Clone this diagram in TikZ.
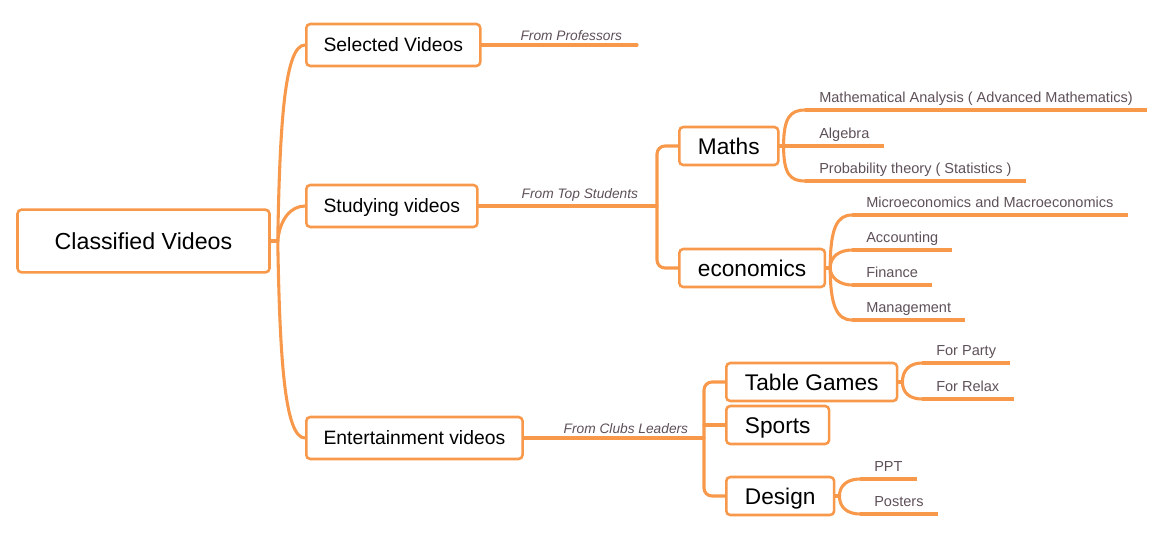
\documentclass[tikz,border=0pt]{standalone}
\usepackage{fontspec}
\setmainfont{Liberation Sans}
\usetikzlibrary{positioning}
\definecolor{mmorange}{RGB}{247,152,74}
\definecolor{mmlabel}{RGB}{94,80,88}

\begin{document}
\begin{tikzpicture}[x=0.75pt,y=-0.75pt,
    box/.style={draw=mmorange, line width=1.9pt, rounded corners=3pt, fill=white, text=black, text depth=0pt},
    rootbox/.style={box, minimum width=189pt, minimum height=47pt, text height=12.5pt, font=\fontsize{17.4}{20}\selectfont},
    topic/.style={box, anchor=west, inner xsep=13pt, minimum height=31.5pt, text height=10.4pt, font=\fontsize{14.5}{17}\selectfont},
    subtopic/.style={box, anchor=west, inner xsep=14pt, minimum height=28.5pt, text height=12.2pt, font=\fontsize{17}{20}\selectfont},
    leaf/.style={anchor=south west, inner xsep=10.5pt, inner ysep=5.5pt, text depth=0pt, text=mmlabel, font=\fontsize{10.9}{13}\selectfont},
    branch/.style={draw=mmorange, line width=2.3pt, line cap=round},
    underline/.style={draw=mmorange, line width=2.6pt},
    note/.style={midway, above, inner sep=2pt, text=mmlabel, font=\fontsize{10.3}{12}\selectfont\itshape}]
    \useasboundingbox (0,0) rectangle (1167,533);

    % main topics
    \node[rootbox] (root) at (143.5,241) {Classified Videos};
    \node[topic] (sel) at (305,45) {Selected Videos};
    \node[topic] (stu) at (305,206) {Studying videos};
    \node[topic] (ent) at (305,438) {Entertainment videos};

    \node[subtopic] (maths) at (678,146) {Maths};
    \node[subtopic] (eco) at (678,268) {economics};
    \node[subtopic] (tg) at (725,382) {Table Games};
    \node[subtopic] (sp) at (725,425) {Sports};
    \node[subtopic] (de) at (725,496) {Design};

    % leaves
    \node[leaf] (ana) at (805,110) {Mathematical Analysis ( Advanced Mathematics)};
    \node[leaf] (alg) at (805,146) {Algebra};
    \node[leaf] (prob) at (805,181) {Probability theory ( Statistics )};
    \node[leaf] (micro) at (852,215) {Microeconomics and Macroeconomics};
    \node[leaf] (acc) at (852,250) {Accounting};
    \node[leaf] (fin) at (852,285) {Finance};
    \node[leaf] (man) at (852,320) {Management};
    \node[leaf] (party) at (922,363) {For Party};
    \node[leaf] (relax) at (922,399) {For Relax};
    \node[leaf] (ppt) at (860,479) {PPT};
    \node[leaf] (post) at (860,514) {Posters};
    \foreach \n in {ana,alg,prob,micro,acc,fin,man,party,relax,ppt,post}
        \draw[underline] (\n.south west) -- (\n.south east);

    % root branches
    \draw[branch] (root.east) -- ++(7,0) coordinate (rj);
    \draw[branch] (rj) .. controls +(2,-120) and +(-20,0) .. (sel.west);
    \draw[branch] (rj) .. controls +(2,-22) and +(-14,0) .. (stu.west);
    \draw[branch] (rj) .. controls +(2,120) and +(-20,0) .. (ent.west);

    \coordinate (selend) at (637,45);
    \draw[branch] (sel.east) -- ++(24,0) -- (selend) node[note] {From Professors};

    \coordinate (sj) at (657,206);
    \draw[branch] (stu.east) -- ++(24,0) -- (sj) node[note] {From Top Students};
    \draw[branch, rounded corners=6pt] (maths.west) -| (sj) |- (eco.west);

    \coordinate (ej) at (704,438);
    \draw[branch] (ent.east) -- ++(24,0) -- (ej) node[note] {From Clubs Leaders};
    \draw[branch, rounded corners=6pt] (tg.west) -| (ej) |- (de.west);
    \draw[branch] (ej |- sp.west) -- (sp.west);

    % brackets to leaves
    \draw[branch] (maths.east) -- ++(4,0) coordinate (mj);
    \draw[branch] (mj) .. controls +(0,-28) and +(-15,0) .. (ana.south west);
    \draw[branch] (mj) -- (alg.south west);
    \draw[branch] (mj) .. controls +(0,28) and +(-15,0) .. (prob.south west);

    \draw[branch] (eco.east) -- ++(4,0) coordinate (ecj);
    \draw[branch] (ecj) .. controls +(0,-40) and +(-15,0) .. (micro.south west);
    \draw[branch] (ecj) .. controls +(0,-12) and +(-12,0) .. (acc.south west);
    \draw[branch] (ecj) .. controls +(0,10) and +(-12,0) .. (fin.south west);
    \draw[branch] (ecj) .. controls +(0,38) and +(-15,0) .. (man.south west);

    \draw[branch] (tg.east) -- ++(4,0) coordinate (tj);
    \draw[branch] (tj) .. controls +(0,-12) and +(-12,0) .. (party.south west);
    \draw[branch] (tj) .. controls +(0,11) and +(-12,0) .. (relax.south west);

    \draw[branch] (de.east) -- ++(4,0) coordinate (dj);
    \draw[branch] (dj) .. controls +(0,-11) and +(-12,0) .. (ppt.south west);
    \draw[branch] (dj) .. controls +(0,12) and +(-12,0) .. (post.south west);
\end{tikzpicture}
\end{document}
